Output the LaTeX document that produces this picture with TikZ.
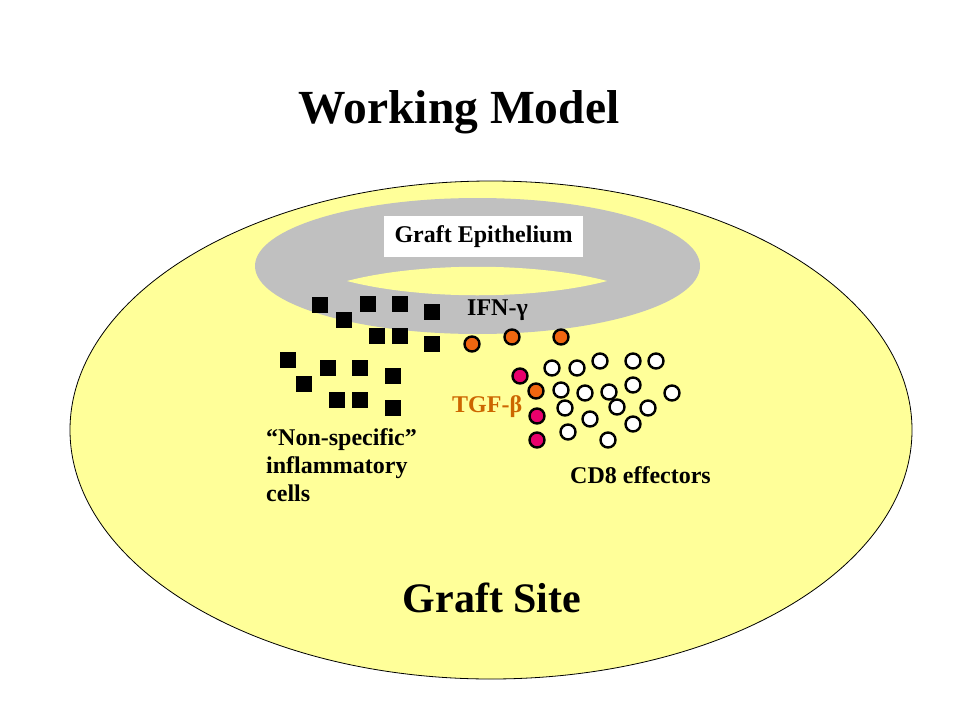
\documentclass[tikz,border=0pt]{standalone}
\usepackage{fontspec}
\setmainfont{Liberation Serif}
\usetikzlibrary{positioning}

\definecolor{siteyellow}{RGB}{255,255,153}
\definecolor{epigray}{RGB}{192,192,192}
\definecolor{ifnorange}{RGB}{240,102,16}
\definecolor{tgfpink}{RGB}{232,0,108}
\definecolor{tgftext}{RGB}{204,102,0}

\begin{document}
\begin{tikzpicture}[
			x=1pt, y=-1pt,
			cell/.style={fill=black, inner sep=0pt, minimum size=16pt},
			dot/.style={circle, draw=black, line width=2.4pt, inner sep=0pt, minimum size=15pt},
			ifn/.style={dot, fill=ifnorange},
			tgf/.style={dot, fill=tgfpink},
			cdeight/.style={dot, fill=white},
			label/.style={font=\bfseries\fontsize{24}{28}\selectfont, inner sep=0pt}
	]
	\useasboundingbox (0,0) rectangle (960,720);
	% graft site and epithelium
	\draw[fill=siteyellow, line width=0.8pt] (491,430) ellipse [x radius=421, y radius=249];
	\fill[epigray] (477.5,266) ellipse [x radius=222.5, y radius=68];
	\fill[siteyellow] (347,281) .. controls (420,262) and (535,262) .. (607,281)
		.. controls (535,300) and (420,300) .. (347,281) -- cycle;

	\node[font=\bfseries\fontsize{47.5}{52}\selectfont, inner sep=0pt, anchor=base] (title) at (459,123) {Working Model};
	\node[font=\bfseries\fontsize{42}{46}\selectfont, inner sep=0pt, anchor=base] (site) at (492,612) {Graft Site};
	\node[label, fill=white, minimum width=199pt, minimum height=41pt] (epi) at (483.5,236.5) {Graft Epithelium};

	% inflammatory cells
	\foreach \x/\y [count=\i] in {320/305, 344/320, 368/304, 400/304, 432/312, 377/336, 400/336, 432/344,
			288/360, 304/384, 328/368, 360/368, 393/376, 337/400, 360/400, 393/408}
		\node[cell] (sq\i) at (\x,\y) {};

	% cytokines
	\foreach \x/\y [count=\i] in {472/344, 512/337, 561/337, 536/391}
		\node[ifn] (ifn\i) at (\x,\y) {};
	\foreach \x/\y [count=\i] in {520/376, 537/416, 537/440}
		\node[tgf] (tgf\i) at (\x,\y) {};

	% CD8 effectors
	\foreach \x/\y [count=\i] in {552/368, 577/368, 600/361, 633/361, 656/361,
			561/390, 585/393, 609/392, 633/385, 672/393,
			565/408, 617/407, 648/408, 590/419, 633/424, 568/432, 608/440}
		\node[cdeight] (cd\i) at (\x,\y) {};

	\node[label, anchor=base west] (ifnlabel) at (467,315) {IFN-γ};
	\node[label, anchor=base west, text=tgftext] (tgflabel) at (452,412) {TGF-β};
	\node[label, anchor=north west, align=left] (nonspec) at (266,428) {“Non-specific”\\inflammatory\\cells};
	\node[label, anchor=base west] (cdlabel) at (570,483) {CD8 effectors};
\end{tikzpicture}
\end{document}
